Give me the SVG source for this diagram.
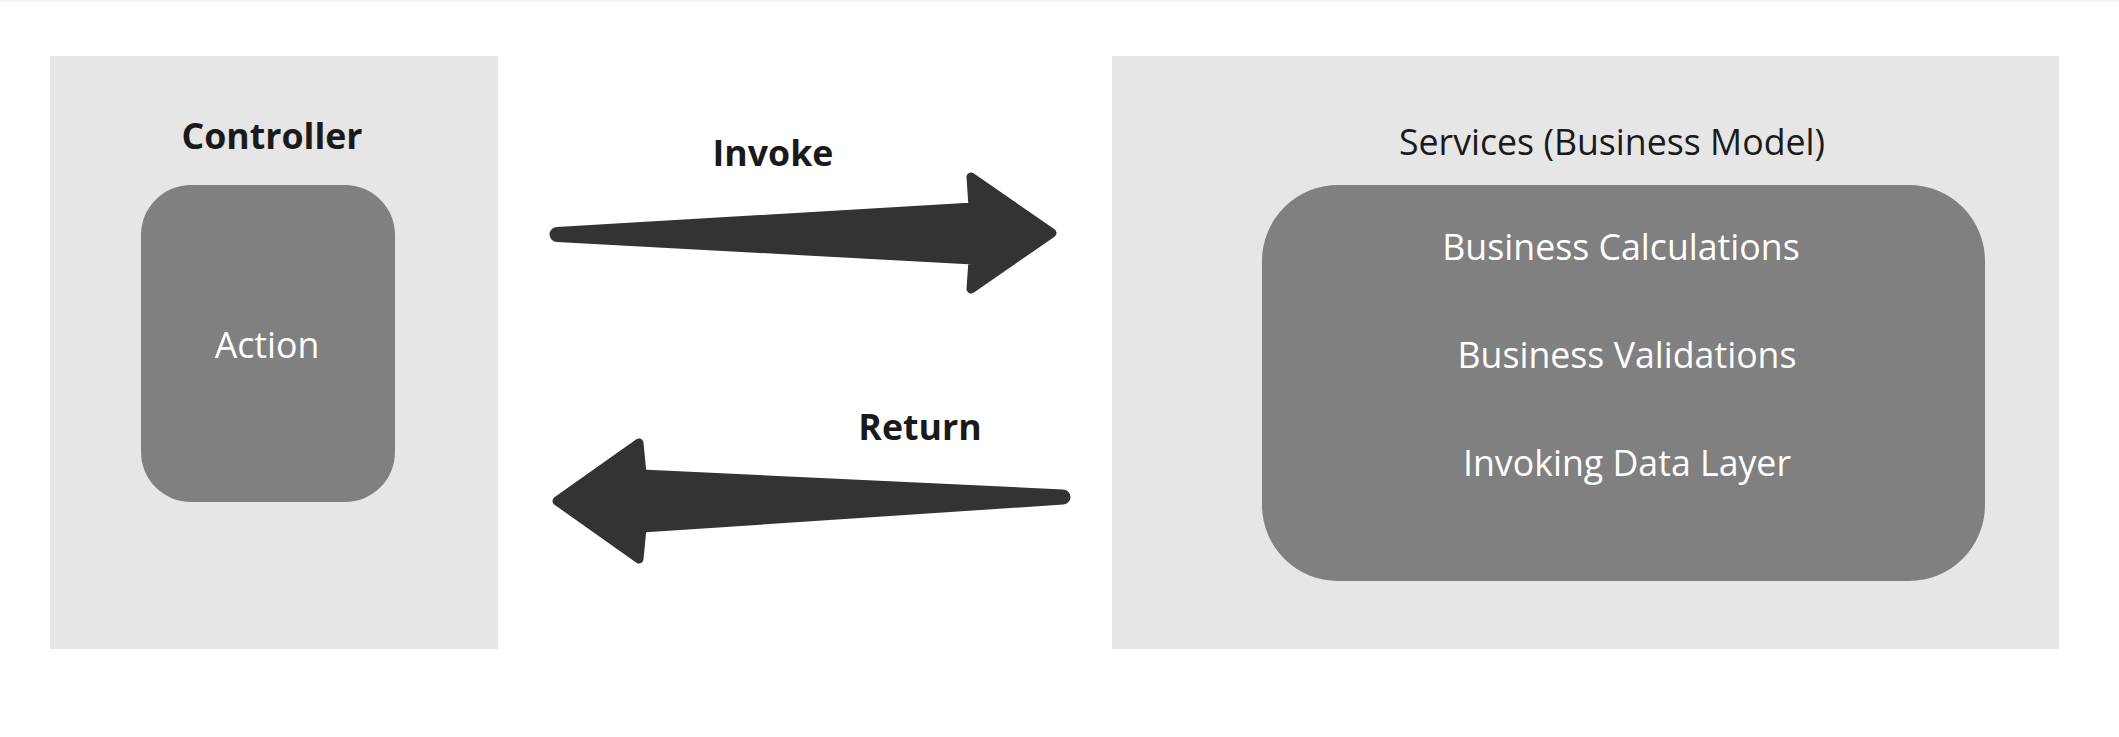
<svg xmlns="http://www.w3.org/2000/svg" width="2119" height="737" viewBox="0 0 2119 737">
<style>
.panel{fill:#e6e6e6}
.inner{fill:#808080}
.arrow{fill:#333333;stroke:#333333;stroke-width:9;stroke-linejoin:round}
.lbl{font-family:"Open Sans","Liberation Sans",sans-serif;font-weight:700;font-size:35.7px;fill:#1a1a1a;text-anchor:middle}
.hdr{font-family:"Open Sans","Liberation Sans",sans-serif;font-size:35.7px;fill:#1a1a1a;text-anchor:middle}
.wt{font-family:"Open Sans","Liberation Sans",sans-serif;font-size:35.7px;fill:#ffffff;text-anchor:middle}
</style>
<rect x="0" y="0" width="2119" height="737" fill="#ffffff"/>
<rect x="0" y="0" width="2119" height="2" fill="#f3f3f3"/>
<g id="controller">
<rect class="panel" x="50" y="56" width="448" height="593"/>
<text class="lbl" x="272" y="149">Controller</text>
</g>
<g id="action">
<rect class="inner" x="141" y="185" width="254" height="317" rx="50" ry="50"/>
<text class="wt" x="267" y="358">Action</text>
</g>
<g id="services">
<rect class="panel" x="1112" y="56" width="947" height="593"/>
<text class="hdr" x="1612" y="155">Services (Business Model)</text>
</g>
<g id="business">
<rect class="inner" x="1262" y="185" width="723" height="396" rx="76" ry="76"/>
<text class="wt" x="1621" y="260">Business Calculations</text>
<text class="wt" x="1627" y="368">Business Validations</text>
<text class="wt" x="1627" y="476">Invoking Data Layer</text>
</g>
<g id="connectors">
<path class="arrow" d="M557,231.5 L973,207 L971,177 L1052,233 L971,289 L973,260 L557,237.5 A3,3 0 0 1 557,231.5 Z"/>
<text class="lbl" x="773" y="166">Invoke</text>
<path class="arrow" d="M557,501 L639,443 L642,474 L1063,494 A3,3 0 0 1 1063,500 L642,528 L639,559 Z"/>
<text class="lbl" x="920" y="440">Return</text>
</g>
</svg>
